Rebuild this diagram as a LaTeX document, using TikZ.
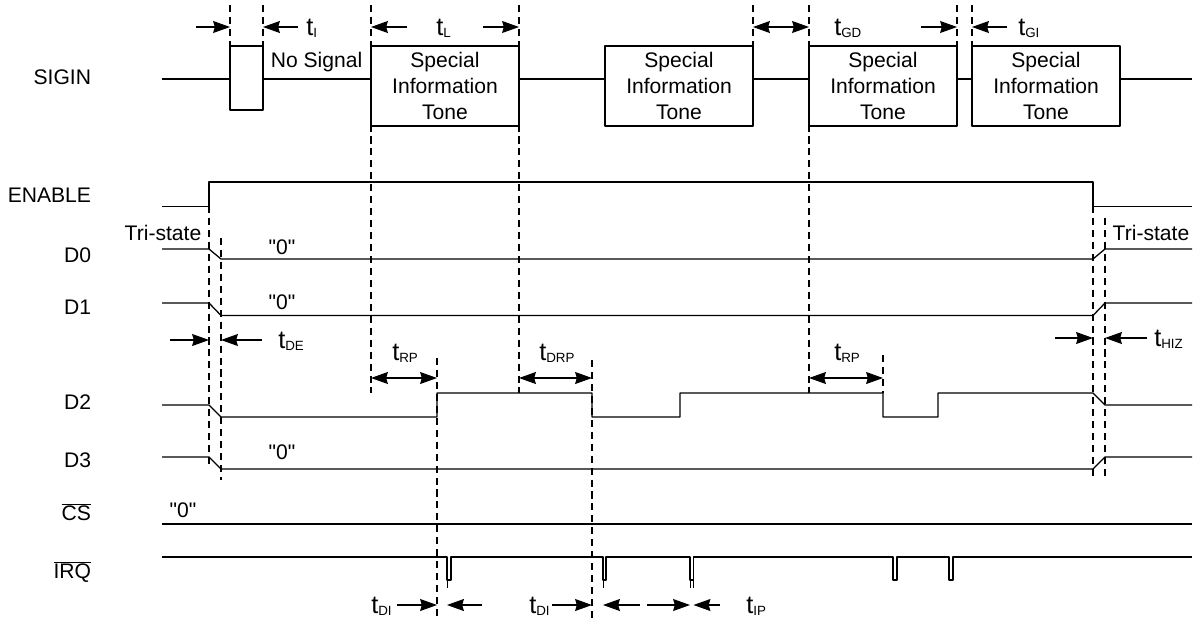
\documentclass[tikz,border=0pt]{standalone}
\usepackage{fontspec}
\setmainfont{Liberation Sans}
\usetikzlibrary{arrows.meta}
\newcommand\tsub[1]{{\fontsize{18}{18}\selectfont t}\raisebox{-1.5pt}{\fontsize{9.5}{9.5}\selectfont #1}}
\newcommand\zq{\textquotedbl 0\textquotedbl}
\tikzset{
  wave/.style={line width=0.9pt},
  guide/.style={line width=0.8pt, dash pattern=on 5pt off 3.5pt},
  tone/.style={draw, line width=0.9pt, fill=white, minimum width=3.7cm, minimum height=2cm, align=center, inner sep=0pt},
  dim/.style={line width=0.9pt},
}
\begin{document}
\begin{tikzpicture}[x=0.025cm, y=-0.025cm, font=\fontsize{15}{18.5}\selectfont, line join=round, >={Stealth[length=12pt,width=8.5pt,inset=1.2pt]}]
			\useasboundingbox (0,0) rectangle (1195,619);
			
			% signal names
			\foreach \n/\y/\t in {sigin/77/SIGIN, enable/195/ENABLE, d0/255/D0, d1/307/D1, d2/402/D2, d3/460/D3, cs/512/{$\overline{\mbox{CS}}$}, irq/572/{$\overline{\mbox{IRQ}}$}}
				\node[anchor=east] (\n) at (96,\y) {\t};
			
			% SIGIN
			\draw[wave] (162,79) -- (1192,79);
			\node[tone, minimum width=0.825cm, minimum height=1.6cm] (burst) at (246.5,78) {};
			\foreach \n/\x in {sit1/445, sit2/679, sit3/883, sit4/1046}
				\node[tone] (\n) at (\x,86) {Special\\Information\\Tone};
			\node (nosig) at (316.5,62) {No Signal};
			
			% timing guides
			\foreach \x in {230,263,753,957,972} \draw[guide] (\x,5) -- (\x,46);
			\foreach \x in {371,519,809} \draw[guide] (\x,5) -- (\x,393);
			\draw[guide] (209,206) -- (209,468);
			\draw[guide] (221,238) -- (221,480);
			\foreach \x in {1093,1105} \draw[guide] (\x,\x-887) -- (\x,480);
			\draw[guide] (437,358) -- (437,619);
			\draw[guide] (592,360) -- (592,619);
			\draw[guide] (883,355) -- (883,393);
			
			% waveforms
			\draw[wave] (162,206.5) -- (209,206.5) -- (209,182) -- (1093,182) -- (1093,206.5) -- (1192,206.5);
			\draw[wave] (162,249) -- (209,249) -- (221,259) -- (1093,259) -- (1105,249) -- (1192,249);
			\draw[wave] (162,303) -- (209,303) -- (221,315.5) -- (1093,315.5) -- (1105,303) -- (1192,303);
			\draw[wave] (162,405) -- (209,405) -- (221,417) -- (437,417) -- (437,393) -- (592,393) -- (592,417) -- (680,417) -- (680,393)
				-- (883,393) -- (883,417) -- (938,417) -- (938,393) -- (1093,393) -- (1105,405) -- (1192,405);
			\draw[wave] (162,457) -- (209,457) -- (221,469) -- (1093,469) -- (1105,457) -- (1192,457);
			\draw[wave] (162,524) -- (1192,524);
			\draw[wave] (162,557) \foreach \a/\b in {447/451, 603/606, 690/693.5, 893/897, 949/953} { -- (\a,557) -- (\a,580) -- (\b,580) -- (\b,557) } -- (1192,557);
			\foreach \x in {447,603,690,693.5} \draw[line width=0.7pt] (\x,580) -- (\x,588);
			
			% level labels
			\foreach \n/\x/\y in {q0/282/247, q1/282/302, q3/282/452, qcs/183/510}
				\node (\n) at (\x,\y) {\zq};
			\node (tri1) at (163,233) {Tri-state};
			\node (tri2) at (1151,233) {Tri-state};
			
			% timing arrows
			\draw[dim,->] (196,27) -- (230,27);
			\draw[dim,->] (298,27) -- (263,27);
			\draw[dim,->] (407,27) -- (371,27);
			\draw[dim,->] (483,27) -- (519,27);
			\draw[dim,<->] (753,27) -- (809,27);
			\draw[dim,->] (921,27) -- (957,27);
			\draw[dim,->] (1007,27) -- (972,27);
			\draw[dim,->] (170,340) -- (209,340);
			\draw[dim,->] (262,340) -- (221,340);
			\draw[dim,->] (1055,338) -- (1093,338);
			\draw[dim,->] (1147,338) -- (1105,338);
			\draw[dim,<->] (371,378) -- (437,378);
			\draw[dim,<->] (519,378) -- (592,378);
			\draw[dim,<->] (809,378) -- (883,378);
			\draw[dim,->] (397,605) -- (437,605);
			\draw[dim,->] (482,605) -- (447,605);
			\draw[dim,->] (552,605) -- (592,605);
			\draw[dim,->] (640,605) -- (603,605);
			\draw[dim,->] (647,605) -- (690,605);
			\draw[dim,->] (720,605) -- (693.5,605);
			
			\foreach \n/\x/\y/\s in {ti/306/28/I, tl/436/28/L, tgd/834/28/GD, tgi/1018/28/GI, tde/278/341/DE, thiz/1154/339/HIZ, trp1/392/353/RP, tdrp/539/353/DRP, trp2/834/353/RP, tdi1/371/606/DI, tdi2/529/606/DI, tip/746/606/IP}
				\node[anchor=west, inner sep=0pt] (\n) at (\x,\y) {\tsub{\s}};
		\end{tikzpicture}
\end{document}
